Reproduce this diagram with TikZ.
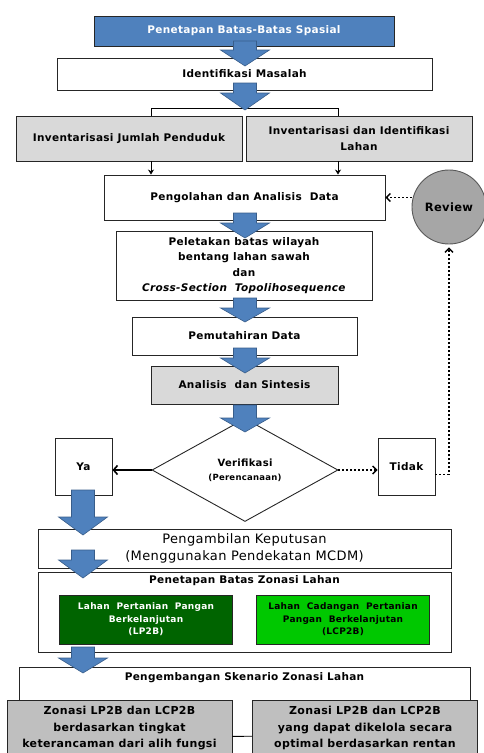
\documentclass[tikz,border=0pt]{standalone}
\usepackage{fontspec}
\setmainfont[LetterSpace=3]{DejaVu Sans}
\usetikzlibrary{shapes.geometric,arrows.meta,positioning}

\definecolor{boxblue}{HTML}{4F81BD}
\definecolor{arrowedge}{HTML}{385D8A}
\definecolor{invgray}{HTML}{D9D9D9}
\definecolor{zonegray}{HTML}{BFBFBF}
\definecolor{reviewgray}{HTML}{A6A6A6}
\definecolor{lpgreen}{HTML}{006400}
\definecolor{lcpgreen}{HTML}{00C800}

\newcommand\mainlabel{\bfseries\fontsize{10.5}{15.5}\selectfont}
\newcommand\smalllabel{\bfseries\fontsize{9}{12.5}\selectfont}
\newcommand\mcdmlabel{\fontsize{13}{17}\selectfont}

% block arrow: x, shaft top, head top, tip
\newcommand\bluearrow[4]{%
  \draw[fill=boxblue, draw=arrowedge, line width=0.6pt]
    (#1-11.5,#2) -- (#1+11.5,#2) -- (#1+11.5,#3) -- (#1+24.5,#3)
    -- (#1,#4) -- (#1-24.5,#3) -- (#1-11.5,#3) -- cycle;}

\begin{document}
\begin{tikzpicture}[x=1pt, y=-1pt,
    framebox/.style={draw=black!85, line width=0.9pt, align=center, inner sep=2pt, font=\mainlabel},
    greenbox/.style={draw=black!85, line width=0.9pt, align=center, inner sep=2pt,
      minimum width=173, minimum height=49, font=\smalllabel},
    zonebox/.style={draw=black!85, line width=0.9pt, fill=zonegray, align=center,
      inner sep=6pt, minimum width=225, anchor=north, font=\bfseries\fontsize{11}{16.5}\selectfont},
    decision/.style={diamond, draw=black!85, line width=0.9pt, aspect=1.8, inner sep=0pt,
      minimum width=186, minimum height=103, align=center, font=\bfseries\fontsize{10}{14}\selectfont},
    smallarrow/.style={line width=0.9pt, -{Stealth[length=5pt, width=6pt]}},
    dotarrow/.style={line width=1.8pt, dash pattern=on 1.8pt off 2.2pt,
      -{Straight Barb[length=4pt, width=8pt, line width=1.4pt]}},
    solidarrow/.style={line width=1.6pt, -{Straight Barb[length=4pt, width=9pt]}}]

  \useasboundingbox (0,0) rectangle (483,753);

  % Upper part
  \node[framebox, fill=boxblue, text=white, minimum width=300, minimum height=30] (spasial) at (244,31) {Penetapan Batas-Batas Spasial};
  \node[framebox, minimum width=375, minimum height=32] (masalah) at (244.5,74) {Identifikasi Masalah};
  \node[framebox, fill=invgray, minimum width=226, minimum height=45] (penduduk) at (129,138.5) {Inventarisasi Jumlah Penduduk};
  \node[framebox, fill=invgray, minimum width=226, minimum height=45] (lahan) at (359,138.5) {Inventarisasi dan Identifikasi\\Lahan};

  \coordinate (brL) at (151,108);
  \coordinate (brR) at (338,108);
  \draw[line width=0.9pt] (brL |- penduduk.north) -- (brL) -- (brR) -- (brR |- lahan.north);

  \node[framebox, minimum width=281, minimum height=45] (olah) at (244.5,197.5) {Pengolahan dan Analisis\ \ Data};
  \draw[smallarrow] (brL |- penduduk.south) -- (brL |- olah.north);
  \draw[smallarrow] (brR |- lahan.south) -- (brR |- olah.north);

  \node[circle, draw=black!65, line width=0.9pt, fill=reviewgray, minimum size=74, font=\bfseries\fontsize{11.5}{14}\selectfont] (review) at (449,207) {Review};
  \draw[dotarrow] (review.west |- olah.east) -- (olah.east);

  \node[framebox, minimum width=256, minimum height=69] (peletakan) at (244,265.5) {Peletakan batas wilayah\\bentang lahan sawah\\dan\\\textit{Cross-Section\ \ Topolihosequence}};
  \node[framebox, minimum width=225, minimum height=38] (pemutahiran) at (244.5,336) {Pemutahiran Data};
  \node[framebox, fill=invgray, minimum width=187, minimum height=38] (analisis) at (244.5,385) {Analisis\ \ dan Sintesis};

  % Verification
  \node[decision] (verifikasi) at (245,470) {Verifikasi\\{\fontsize{8.5}{10}\selectfont(Perencanaan)}};
  \node[framebox, minimum size=57] (ya) at (83.5,466.5) {Ya};
  \node[framebox, minimum size=57] (tidak) at (406.5,466.5) {Tidak};
  \draw[solidarrow] (verifikasi.west) -- (ya.east |- verifikasi.west);
  \draw[dotarrow] (verifikasi.east) -- (tidak.west |- verifikasi.east);
  \draw[dotarrow, shorten >=3pt] ([yshift=-8pt]tidak.east) -| (review.south);

  % Lower part
  \node[framebox, font=\mcdmlabel, minimum width=413, minimum height=39, inner sep=1pt] (mcdm) at (244.5,548.5) {Pengambilan Keputusan\\(Menggunakan Pendekatan MCDM)};

  \node[framebox, minimum width=413, minimum height=80] (zonasi) at (244.5,612) {};
  \node[font=\mainlabel, inner sep=0pt, below=4pt of zonasi.north] (zonasititle) {Penetapan Batas Zonasi Lahan};
  \node[greenbox, fill=lpgreen, text=white] (lp2b) at (146,619.5) {Lahan\ \ Pertanian\ \ Pangan\\Berkelanjutan\\(LP2B)};
  \node[greenbox, fill=lcpgreen] (lcp2b) at (343,619.5) {Lahan\ \ Cadangan\ \ Pertanian\\Pangan\ \ Berkelanjutan\\(LCP2B)};

  \node[framebox, minimum width=451, minimum height=110, anchor=north] (skenario) at (244.5,667) {};
  \node[font=\mainlabel, inner sep=0pt, below=5pt of skenario.north] (skenariotitle) {Pengembangan Skenario Zonasi Lahan};
  \node[zonebox] (zonA) at (119.5,700) {Zonasi LP2B dan LCP2B\\berdasarkan tingkat\\keterancaman dari alih fungsi};
  \node[zonebox] (zonB) at (365,700) {Zonasi LP2B dan LCP2B\\yang dapat dikelola secara\\optimal berdasarkan rentan};
  \draw[line width=0.9pt] ([yshift=-8pt]zonA.east) -- ([yshift=-8pt]zonB.west);

  % Block arrows
  \bluearrow{245}{41}{50}{66}
  \bluearrow{245}{83}{93}{110}
  \bluearrow{245}{213}{223}{238}
  \bluearrow{245}{298}{308}{322}
  \bluearrow{245}{348}{358}{373}
  \bluearrow{245}{405}{418}{432}
  \bluearrow{83}{490}{517}{535}
  \bluearrow{83}{550}{560}{578}
  \bluearrow{83}{647}{658}{673}
\end{tikzpicture}
\end{document}
